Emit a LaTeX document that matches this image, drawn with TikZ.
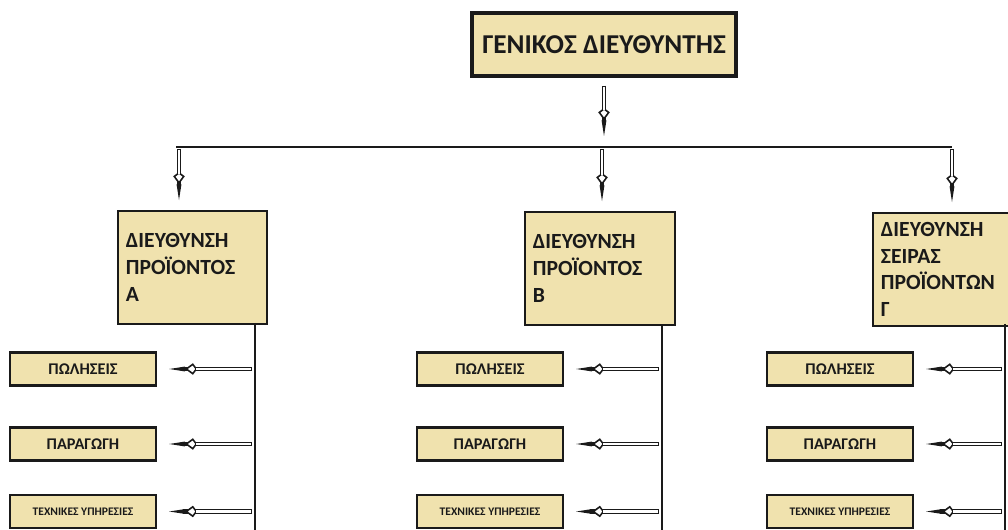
\documentclass[tikz,border=0pt]{standalone}
\usepackage{fontspec}
\setmainfont{Carlito}
\usetikzlibrary{arrows.meta,positioning}
\definecolor{boxTan}{HTML}{F0E2AE}
\definecolor{ink}{HTML}{1A1A1A}
\newcommand{\TopFont}{\bfseries\fontsize{15.5}{18}\selectfont}
\newcommand{\DeptFont}{\bfseries\fontsize{12.3}{15.3}\selectfont}
\newcommand{\UnitFont}{\bfseries\fontsize{9.3}{10}\selectfont}
\newcommand{\TinyFont}{\bfseries\fontsize{6.6}{7.5}\selectfont}
\tikzset{
  hollow arrow/.style 2 args={
    draw=ink, line width=2.8pt, shorten <=#1, shorten >=#2,
    -{Kite[open,fill=white,length=7pt,width=6.6pt,inset=2.5pt,line width=0.9pt]Stealth[length=9pt,width=2.8pt,inset=1pt,line width=0pt]},
    postaction={draw=white, line width=1.2pt, -, shorten <=#1+0.8pt, shorten >=#2+15pt}
  },
  bus line/.style={ink, line width=1.1pt},
}
\begin{document}
\begin{tikzpicture}[x=0.02cm,y=-0.02cm,
  unit/.style={
    draw=ink, line width=1.4pt, fill=boxTan, text=ink,
    minimum width=2.92cm, minimum height=0.66cm, inner sep=1pt, font=\UnitFont
  },
  dept/.style={
    draw=ink, line width=1.1pt, fill=boxTan, text=ink, anchor=north west,
    minimum height=2.26cm, text width=#1, align=left, inner xsep=0.16cm, font=\DeptFont
  }]
  \useasboundingbox (0,0) rectangle (1008,530);
  \clip (0,0) rectangle (1008,530);

  % General manager
  \node[draw=ink, line width=1.8pt, fill=boxTan, text=ink, font=\TopFont,
        minimum width=5.28cm, minimum height=1.26cm] (gm) at (604,44.5) {ΓΕΝΙΚΟΣ ΔΙΕΥΘΥΝΤΗΣ};

  % Bus
  \coordinate (busL) at (176,147);
  \coordinate (busR) at (952,147);
  \draw[bus line] (busL) -- (busR);
  \draw[hollow arrow={0.16cm}{0.22cm}] (gm.south) -- (gm.south |- busL);

  % Divisions
  \node[dept=2.66cm] (d1) at (117,210) {ΔΙΕΥΘΥΝΣΗ\\ΠΡΟΪΟΝΤΟΣ\\Α};
  \node[dept=2.68cm] (d2) at (524,211) {ΔΙΕΥΘΥΝΣΗ\\ΠΡΟΪΟΝΤΟΣ\\Β};
  \node[dept=2.44cm] (d3) at (872,212) {ΔΙΕΥΘΥΝΣΗ\\ΣΕΙΡΑΣ\\ΠΡΟΪΟΝΤΩΝ\\Γ};

  \coordinate (j1) at (179,147);
  \coordinate (j2) at (602,147);
  \coordinate (j3) at (952,147);
  \foreach \k in {1,2,3}
    \draw[hollow arrow={0.04cm}{0.2cm}] (j\k) -- (j\k |- d\k.north);

  % Units under each division
  \coordinate (v1) at (255,323);
  \coordinate (v2) at (662,325);
  \coordinate (v3) at (1005,324);
  \foreach \k/\xc in {1/83, 2/490, 3/840} {
    \draw[bus line] (v\k) -- ++(0,220);
    \node[unit] (u\k-1) at (\xc,369) {ΠΩΛΗΣΕΙΣ};
    \node[unit] (u\k-2) at (\xc,444) {ΠΑΡΑΓΩΓΗ};
    \node[unit, font=\TinyFont] (u\k-3) at (\xc,511.5) {ΤΕΧΝΙΚΕΣ ΥΠΗΡΕΣΙΕΣ};
    \foreach \r in {1,2,3}
      \draw[hollow arrow={0.06cm}{0.24cm}] (v\k |- u\k-\r.east) -- (u\k-\r.east);
  }
\end{tikzpicture}
\end{document}
